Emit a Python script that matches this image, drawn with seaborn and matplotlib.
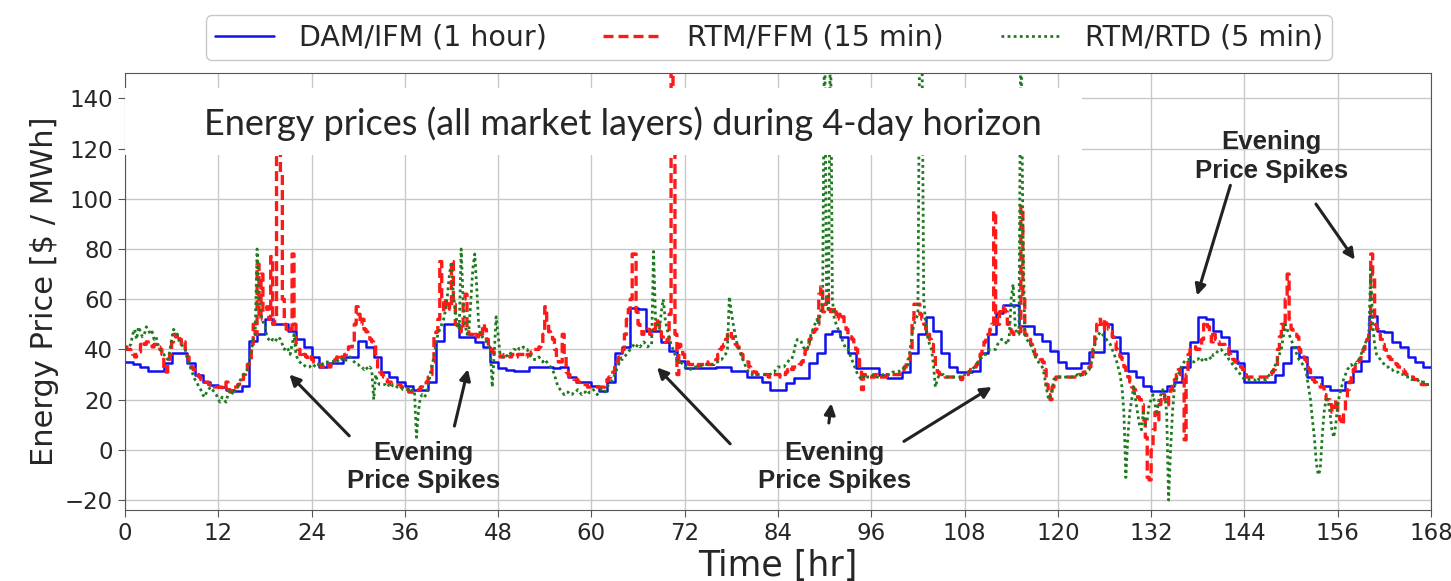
import matplotlib
matplotlib.use("Agg")
import matplotlib.pyplot as plt
from matplotlib.patches import Rectangle
import seaborn as sns
import numpy as np
import pandas as pd

# DAM / IFM hourly prices, hours 0..167
dam = [35, 34, 33, 31.5, 31.5, 34.5, 38.5, 38.5, 34.5, 30, 27, 26, 25, 24,
       23.5, 25.5, 43.5, 46, 52, 50, 50, 47.5, 44, 41, 37, 33, 34.5, 34.5,
       37, 37, 43.5, 41, 37, 31, 29, 27, 25.5, 24, 24, 27, 43.5, 50,
       50, 45, 45, 43, 41, 35, 32.5, 32, 31.5, 31.5, 33, 33, 33, 32.5,
       33, 29, 27, 27, 25.5, 23.5, 27, 38.5, 41, 56.5, 56, 47.5, 47.5, 43,
       39.5, 35.5, 32.5, 32.5, 32.5, 32.5, 33, 33, 31.5, 31.5, 29, 29, 27, 24,
       24, 26.5, 28.5, 28.5, 34.5, 38.5, 46, 47.5, 45, 38.5, 32.5, 32.5, 32.5, 30,
       28.5, 28.5, 31, 38.5, 46, 53, 47.5, 38.5, 33, 31, 31, 31.5, 38.5, 46,
       54.5, 57.5, 57.5, 49.5, 49.5, 46, 43.5, 39.5, 35, 32.5, 32.5, 34.5, 39, 39,
       50, 45, 38.5, 31.5, 29, 25.5, 23.5, 23.5, 25.5, 27, 33, 43, 53, 52,
       47.5, 45, 39.5, 34.5, 27, 27, 27, 27, 30, 34.5, 41, 37, 29, 29,
       25.5, 24, 24, 27, 31.5, 35.5, 53.5, 47.5, 47, 43, 41, 37, 35, 33]

# RTM / FFM 15-minute prices (4 per hour)
rtm = [41, 40, 40, 39,  38, 37, 38, 39,  42, 43, 42, 43,  42, 42, 41, 42,
       42, 41, 40, 38,  32, 31, 36, 38,  43, 46, 45, 46,  44, 42, 43, 40,
       37, 35, 33, 32,  31, 30, 29, 28,  28, 27, 27, 26,  26, 26, 25, 25,
       25, 25, 24, 24,  27, 24, 23, 24,  25, 25, 26, 27,  28, 30, 32, 34,
       36, 42, 50, 46,  74, 52, 70, 55,  56, 57, 52, 77,  50, 52, 118, 125,
       110, 60, 50, 48,  47, 48, 78, 50,  42, 40, 38, 39,  38, 37, 36, 37,
       36, 35, 34, 34,  34, 33, 33, 33,  34, 33, 34, 35,  36, 37, 38, 37,
       37, 38, 40, 41,  41, 42, 50, 57,  54, 50, 52, 48,  47, 46, 44, 43,
       42, 36, 32, 31,  30, 29, 28, 27,  27, 26, 26, 26,  26, 26, 25, 25,
       24, 24, 23, 23,  23, 23, 23, 24,  25, 26, 26, 27,  29, 30, 35, 45,
       47, 52, 75, 60,  55, 60, 58, 56,  75, 58, 50, 48,  49, 47, 60, 62,
       47, 46, 46, 45,  46, 45, 47, 46,  50, 48, 44, 40,  40, 39, 38, 38,
       38, 37, 37, 38,  38, 38, 37, 38,  38, 37, 38, 38,  38, 38, 37, 38,
       38, 39, 40, 40,  40, 41, 42, 46,  57, 50, 47, 46,  44, 40, 36, 35,
       35, 46, 38, 31,  30, 29, 29, 28,  28, 27, 26, 26,  26, 26, 25, 25,
       25, 25, 25, 25,  25, 25, 25, 26,  28, 29, 30, 31,  33, 35, 37, 38,
       40, 46, 52, 56,  60, 78, 78, 55,  50, 48, 46, 47,  47, 48, 46, 47,
       48, 52, 50, 47,  45, 44, 43, 44,  54, 175, 120, 46,  30, 42, 40, 38,
       36, 35, 34, 34,  34, 34, 33, 34,  34, 34, 34, 35,  34, 34, 34, 35,
       36, 38, 40, 41,  42, 44, 46, 47,  45, 43, 42, 41,  40, 38, 36, 35,
       35, 33, 32, 31,  31, 30, 30, 30,  30, 30, 30, 29,  29, 30, 30, 30,
       30, 29, 30, 30,  31, 32, 33, 32,  33, 33, 33, 34,  35, 38, 40, 42,
       44, 46, 47, 48,  50, 62, 65, 55,  58, 62, 56, 55,  57, 55, 52, 54,
       52, 53, 50, 48,  46, 45, 44, 42,  40, 36, 32, 24,  30, 29, 29, 29,
       29, 29, 30, 29,  29, 29, 29, 29,  30, 30, 30, 30,  30, 30, 30, 31,
       32, 33, 35, 36,  40, 52, 58, 58,  58, 54, 52, 50,  48, 46, 44, 42,
       38, 33, 31, 30,  30, 30, 29, 29,  29, 29, 29, 29,  29, 29, 28, 29,
       29, 30, 31, 32,  33, 33, 34, 35,  38, 40, 43, 45,  46, 48, 50, 95,
       52, 50, 55, 57,  56, 55, 50, 48,  47, 46, 46, 47,  47, 97, 60, 46,
       44, 44, 42, 40,  38, 37, 37, 36,  35, 32, 26, 22,  20, 25, 28, 29,
       29, 29, 29, 29,  29, 29, 29, 29,  29, 29, 29, 30,  30, 31, 31, 32,
       33, 35, 40, 46,  50, 52, 50, 48,  52, 50, 48, 47,  45, 43, 40, 38,
       37, 36, 33, 31,  29, 27, 25, 24,  23, 21, 20, 18,  12, 5, -11, -12,
       0, 8, 15, 12,  18, 20, 22, 20,  18, 22, 24, 27,  28, 30, 32, 30,
       28, 4, 30, 38,  40, 40, 41, 40,  40, 41, 44, 50,  51, 49, 46, 43,
       46, 44, 43, 42,  42, 42, 41, 41,  38, 37, 36, 35,  35, 34, 33, 32,
       30, 29, 29, 29,  29, 29, 29, 29,  29, 29, 29, 29,  29, 30, 31, 32,
       33, 40, 45, 50,  48, 60, 70, 52,  48, 47, 46, 45,  40, 38, 37, 36,
       34, 32, 30, 28,  27, 26, 26, 25,  25, 22, 20, 20,  18, 15, 17, 20,
       15, 12, 10, 15,  20, 24, 27, 30,  32, 34, 35, 36,  38, 40, 42, 44,
       46, 78, 70, 50,  48, 46, 44, 42,  40, 38, 37, 36,  36, 35, 34, 33,
       33, 32, 31, 30,  30, 29, 29, 28,  28, 27, 27, 26,  26, 26, 25, 25]

# RTM / RTD prices (15-minute read-out)
rtd = [40, 41, 41, 42,  46, 48, 44, 49,  47, 45, 46, 49,  48, 46, 47, 44,
       45, 42, 40, 39,  38, 37, 36, 39,  44, 48, 47, 46,  43, 42, 41, 40,
       37, 35, 32, 30,  28, 27, 25, 24,  22, 21, 23, 24,  25, 24, 23, 22,
       20, 19, 21, 20,  19, 22, 24, 23,  22, 24, 25, 27,  29, 30, 31, 32,
       35, 39, 44, 46,  80, 60, 54, 51,  50, 45, 44, 43,  44, 43, 44, 45,
       44, 42, 40, 41,  40, 38, 42, 46,  38, 36, 35, 34,  34, 33, 33, 33,
       34, 34, 33, 33,  34, 35, 34, 35,  35, 35, 35, 35,  36, 36, 35, 36,
       36, 35, 36, 37,  37, 36, 35, 34,  34, 33, 33, 32,  33, 32, 33, 32,
       20, 30, 27, 26,  26, 26, 26, 25,  26, 25, 26, 26,  25, 25, 25, 24,
       24, 24, 24, 23,  24, 23, 5, 15,  21, 22, 21, 22,  25, 30, 34, 37,
       42, 46, 48, 50,  52, 56, 62, 70,  75, 62, 55, 50,  48, 80, 60, 50,
       46, 48, 60, 72,  78, 65, 50, 45,  45, 44, 43, 42,  40, 25, 38, 53,
       46, 38, 37, 37,  38, 37, 38, 39,  40, 40, 41, 40,  40, 41, 40, 40,
       38, 37, 36, 36,  36, 37, 36, 35,  36, 35, 34, 33,  32, 30, 27, 25,
       24, 23, 22, 23,  23, 22, 22, 23,  23, 24, 23, 22,  23, 23, 22, 23,
       23, 24, 23, 22,  23, 24, 24, 23,  25, 26, 27, 28,  30, 32, 34, 36,
       36, 37, 38, 39,  40, 41, 42, 41,  42, 41, 42, 43,  42, 41, 42, 42,
       79, 52, 50, 48,  55, 60, 52, 48,  45, 42, 40, 38,  36, 35, 35, 34,
       33, 33, 33, 32,  33, 33, 33, 33,  33, 34, 34, 34,  34, 34, 34, 34,
       35, 35, 36, 36,  37, 38, 40, 61,  55, 50, 46, 42,  40, 38, 36, 34,
       32, 31, 30, 30,  30, 30, 30, 30,  30, 30, 30, 30,  30, 31, 31, 32,
       33, 33, 33, 33,  34, 35, 36, 36,  38, 42, 44, 44,  43, 41, 40, 40,
       42, 46, 48, 50,  52, 50, 55, 60,  175, 60, 55, 175,  60, 52, 50, 48,
       46, 44, 42, 40,  40, 38, 36, 34,  32, 30, 29, 28,  29, 30, 29, 29,
       29, 30, 30, 29,  29, 29, 30, 30,  30, 30, 30, 31,  31, 31, 31, 32,
       32, 33, 33, 34,  40, 46, 50, 52,  54, 175, 175, 60,  50, 45, 42, 40,
       34, 25, 28, 30,  30, 30, 29, 29,  29, 29, 29, 29,  29, 29, 29, 30,
       30, 30, 31, 31,  32, 33, 34, 35,  36, 37, 38, 38,  39, 40, 40, 40,
       40, 42, 43, 44,  44, 43, 42, 45,  60, 66, 50, 46,  46, 175, 90, 46,
       44, 43, 42, 40,  38, 36, 35, 34,  33, 30, 25, 21,  20, 24, 28, 29,
       29, 29, 29, 29,  29, 29, 29, 29,  29, 29, 30, 29,  30, 30, 30, 31,
       32, 34, 38, 42,  45, 46, 47, 46,  45, 44, 43, 42,  40, 38, 36, 33,
       30, 25, 15, -11,  5, 15, 20, 25,  20, 15, 10, 8,  15, 10, 12, 18,
       20, 22, 18, 15,  20, 22, 24, 22,  15, -20, 0, 15,  25, 28, 30, 32,
       34, 35, 36, 36,  36, 35, 35, 36,  36, 37, 36, 35,  36, 36, 37, 36,
       38, 38, 39, 40,  40, 39, 38, 38,  36, 35, 34, 33,  32, 31, 30, 29,
       28, 28, 28, 28,  28, 28, 27, 28,  28, 28, 28, 28,  29, 30, 31, 32,
       34, 36, 38, 40,  45, 50, 48, 46,  44, 42, 40, 38,  36, 35, 34, 33,
       30, 25, 20, 12,  5, -5, -10, -8,  5, 15, 20, 20,  15, 8, 5, 10,
       18, 22, 25, 28,  30, 32, 33, 34,  33, 34, 35, 36,  38, 40, 42, 44,
       45, 72, 50, 42,  38, 37, 36, 35,  34, 33, 33, 32,  32, 31, 31, 31,
       30, 30, 30, 29,  29, 29, 28, 28,  28, 28, 27, 27,  27, 27, 26, 26]

x_ticks = list(range(0, 169, 12))
y_ticks = list(range(-20, 141, 20))

sns.set_style("ticks")
plt.rcParams["font.family"] = ["DejaVu Sans"]

fig = plt.figure(figsize=(14.51, 5.81), dpi=100)
ax = fig.add_axes([0.0861, 0.122, 0.9001, 0.752])

dam_df = pd.DataFrame({"t": np.arange(len(dam) + 1), "p": dam + [dam[-1]]})
rtm_df = pd.DataFrame({"t": np.arange(len(rtm)) * 0.25, "p": rtm})
rtd_df = pd.DataFrame({"t": np.arange(len(rtd)) * 0.25, "p": rtd})

sns.lineplot(data=dam_df, x="t", y="p", ax=ax, color="#1010ee", lw=1.8,
             drawstyle="steps-post", estimator=None, label="DAM/IFM (1 hour)")
sns.lineplot(data=rtm_df, x="t", y="p", ax=ax, color="#ff1a1a", lw=2.4,
             drawstyle="steps-post", estimator=None, label="RTM/FFM (15 min)")
ax.lines[-1].set_dashes((3, 1.5))
sns.lineplot(data=rtd_df, x="t", y="p", ax=ax, color="#1f7a1f", lw=2.0,
             estimator=None, label="RTM/RTD (5 min)")
ax.lines[-1].set_dashes((1, 1.2))

ax.set_xlim(0, 168)
ax.set_ylim(-24, 150)
ax.set_xticks(x_ticks)
ax.set_yticks(y_ticks)
ax.tick_params(labelsize=16.5, length=5, color="#555555")
ax.grid(True, color="#c8c8c8", lw=1)
for s in ax.spines.values():
    s.set_visible(True)
    s.set_color("#555555")
ax.set_xlabel("Time [hr]", fontsize=25, labelpad=3)
ax.set_ylabel("Energy Price [$ / MWh]", fontsize=22, labelpad=4)

leg = ax.legend(loc="lower center", bbox_to_anchor=(0.493, 1.03), ncol=3,
                fontsize=20.5, frameon=True, handlelength=2.1,
                handletextpad=0.85, columnspacing=2.0, borderaxespad=0.0,
                borderpad=0.3)
leg.get_frame().set_edgecolor("#bbbbbb")

# white title box over the upper left of the plot
ax.add_patch(Rectangle((0, 0.812), 0.7325, 0.154, transform=ax.transAxes,
                       facecolor="white", edgecolor="none", zorder=5))
ax.text(0.381, 0.885, "Energy prices (all market layers) during 4-day horizon",
        transform=ax.transAxes, ha="center", va="center", fontsize=26,
        family=["Lato", "DejaVu Sans"], zorder=6)

note_kw = dict(fontsize=18.5, fontweight="bold", ha="center", va="center",
               family=["Liberation Sans", "DejaVu Sans"], linespacing=1.25)
arrow_kw = dict(arrowstyle="-|>", color="#222222", lw=2.2, mutation_scale=16)

ax.text(38.4, -6.8, "Evening\nPrice Spikes", **note_kw)
ax.annotate("", xy=(20.9, 30.8), xytext=(29.1, 4.8), arrowprops=arrow_kw)
ax.annotate("", xy=(44.2, 33.2), xytext=(42.3, 8.4), arrowprops=arrow_kw)

ax.text(91.3, -6.8, "Evening\nPrice Spikes", **note_kw)
ax.annotate("", xy=(68.2, 33.6), xytext=(78.1, 1.6), arrowprops=arrow_kw)
ax.annotate("", xy=(90.9, 19.6), xytext=(90.5, 9.6), arrowprops=arrow_kw)
ax.annotate("", xy=(111.8, 25.6), xytext=(99.9, 2.8), arrowprops=arrow_kw)

ax.text(147.5, 116.8, "Evening\nPrice Spikes", **note_kw)
ax.annotate("", xy=(137.8, 60.4), xytext=(142.3, 106.4), arrowprops=arrow_kw)
ax.annotate("", xy=(158.4, 74.8), xytext=(153.0, 98.8), arrowprops=arrow_kw)

fig.savefig("out.png", dpi=100)
